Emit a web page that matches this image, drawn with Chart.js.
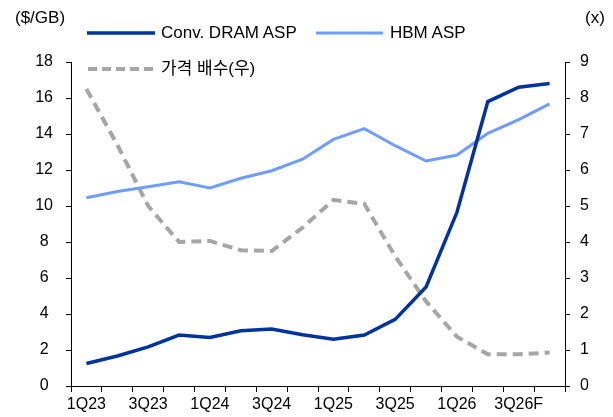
<!DOCTYPE html>
<html>
<head>
<meta charset="utf-8">
<script src="https://cdn.jsdelivr.net/npm/chart.js@4"></script>
<style>
  body { margin: 0; background: #fff; }
  #wrap { position: relative; width: 613px; height: 417px; font-family: "Liberation Sans", "Noto Sans CJK KR", sans-serif; color: #000; }
  #wrap canvas, #wrap svg { position: absolute; left: 0; top: 0; }
  .lbl { position: absolute; font-size: 17px; line-height: 18px; white-space: nowrap; }
</style>
</head>
<body>
<div id="wrap">
  <canvas id="chart" width="613" height="417"></canvas>
  <svg width="613" height="90">
    <line x1="87" y1="33" x2="155" y2="33" stroke="#0033a0" stroke-width="3.5"/>
    <line x1="316" y1="33" x2="383" y2="33" stroke="#6f9dff" stroke-width="3"/>
    <line x1="88" y1="69" x2="155" y2="69" stroke="#a6a6a6" stroke-width="4" stroke-dasharray="9,5"/>
  </svg>
  <div class="lbl" style="left:15px;top:9px">($/GB)</div>
  <div class="lbl" style="left:585px;top:9px">(x)</div>
  <div class="lbl" style="left:161px;top:24px">Conv. DRAM ASP</div>
  <div class="lbl" style="left:390px;top:24px">HBM ASP</div>
  <div class="lbl" style="left:161px;top:60px">가격 배수(우)</div>
</div>
<script>
const categories = ['1Q23', '2Q23', '3Q23', '4Q23', '1Q24', '2Q24', '3Q24', '4Q24',
                    '1Q25', '2Q25', '3Q25', '4Q25', '1Q26', '2Q26', '3Q26F', '4Q26F'];
const convDramAsp = [1.25, 1.67, 2.17, 2.83, 2.7, 3.07, 3.17, 2.85, 2.6, 2.83, 3.7, 5.5, 9.65, 15.8, 16.6, 16.8];
const hbmAsp = [10.46, 10.8, 11.07, 11.35, 11.0, 11.54, 11.96, 12.6, 13.7, 14.3, 13.35, 12.5, 12.83, 14.04, 14.8, 15.67];
const priceMultiple = [8.25, 6.7, 5.0, 4.0, 4.03, 3.77, 3.75, 4.4, 5.17, 5.06, 3.6, 2.35, 1.37, 0.88, 0.88, 0.93];

const tickFont = { family: '"Liberation Sans", Arial, sans-serif', size: 16 };

new Chart(document.getElementById('chart'), {
    type: 'line',
    data: {
        labels: categories,
        datasets: [
            {
                label: 'Conv. DRAM ASP',
                data: convDramAsp,
                yAxisID: 'y',
                borderColor: '#0033a0',
                borderWidth: 3.5,
                pointRadius: 0,
                tension: 0
            },
            {
                label: 'HBM ASP',
                data: hbmAsp,
                yAxisID: 'y',
                borderColor: '#6f9dff',
                borderWidth: 3,
                pointRadius: 0,
                tension: 0
            },
            {
                label: '가격 배수(우)',
                data: priceMultiple,
                yAxisID: 'y1',
                borderColor: '#a6a6a6',
                borderWidth: 4,
                borderDash: [10, 6],
                pointRadius: 0,
                tension: 0
            }
        ]
    },
    options: {
        responsive: false,
        animation: false,
        devicePixelRatio: 1,
        layout: { padding: { top: 62, left: 0, right: 0, bottom: 0 } },
        plugins: {
            legend: { display: false },
            tooltip: { enabled: false }
        },
        scales: {
            x: {
                offset: true,
                grid: { offset: true, drawOnChartArea: false, tickLength: 6, color: '#000' },
                border: { color: '#000' },
                ticks: {
                    autoSkip: false,
                    maxRotation: 0,
                    padding: 3,
                    color: '#000',
                    font: tickFont,
                    callback: function (v, i) { return i % 2 === 0 ? categories[i] : ''; }
                },
                afterFit: function (s) { s.height = 31; }
            },
            y: {
                position: 'left',
                min: 0,
                max: 18,
                grid: { drawOnChartArea: false, tickLength: 5, color: '#000' },
                border: { color: '#000' },
                ticks: { stepSize: 2, crossAlign: 'center', padding: 13, color: '#000', font: tickFont },
                afterFit: function (s) { s.width = 71; }
            },
            y1: {
                position: 'right',
                min: 0,
                max: 9,
                grid: { drawOnChartArea: false, tickLength: 5, color: '#000' },
                border: { color: '#000' },
                ticks: { stepSize: 1, padding: 10, color: '#000', font: tickFont },
                afterFit: function (s) { s.width = 48; }
            }
        }
    }
});
</script>
</body>
</html>
